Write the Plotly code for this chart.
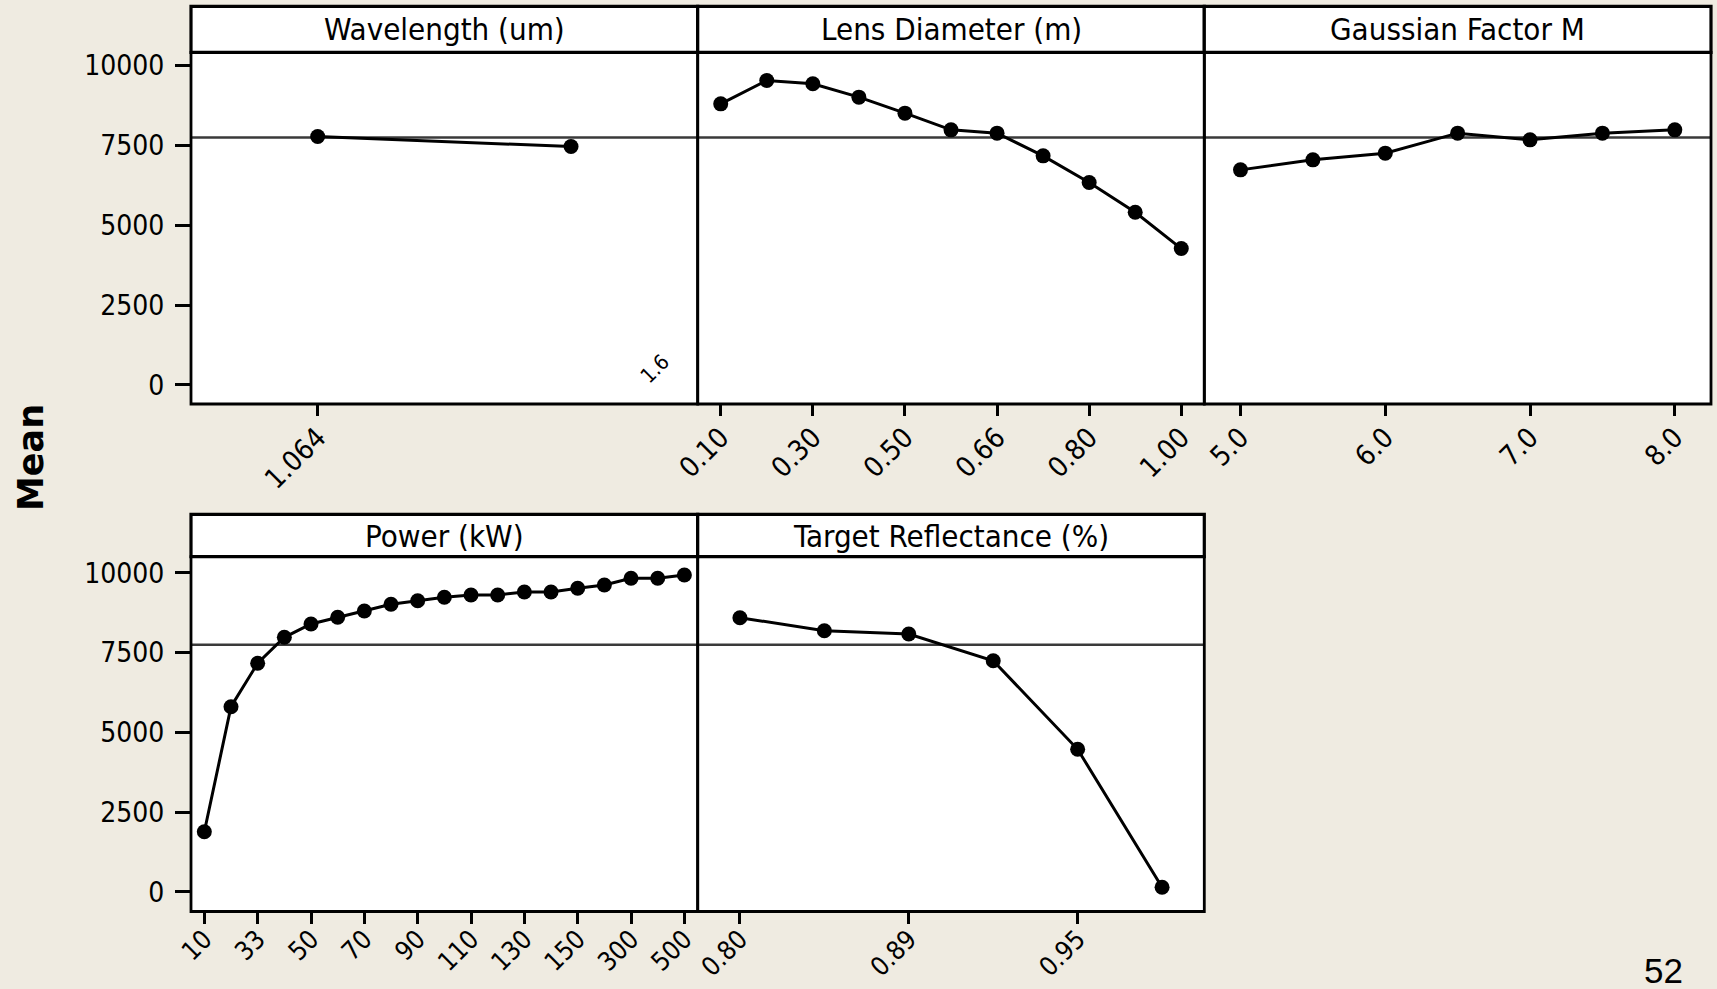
import plotly.graph_objects as go

W, H = 1717, 989
BG = "#EFEBE1"
TICK_FONT = "DejaVu Sans Condensed, DejaVu Sans, sans-serif"
GRAND_MEAN = 7750

# ---------------- data ----------------
WAVELENGTH_LEVELS = ["1.064", "1.6"]
WAVELENGTH_MEANS = [7777, 7463]

LENS_LEVELS = ["0.10", "0.20", "0.30", "0.40", "0.50", "0.60", "0.66", "0.70", "0.80", "0.90", "1.00"]
LENS_MEANS = [8800, 9531, 9427, 9010, 8509, 7986, 7882, 7172, 6336, 5408, 4270]

GAUSS_LEVELS = ["5.0", "5.5", "6.0", "6.5", "7.0", "7.5", "8.0"]
GAUSS_MEANS = [6733, 7047, 7256, 7882, 7673, 7882, 7986]

POWER_LEVELS = ["10", "20", "33", "40", "50", "60", "70", "80", "90", "100",
                "110", "120", "130", "140", "150", "200", "300", "400", "500"]
POWER_MEANS = [1883, 5805, 7167, 7982, 8400, 8610, 8808, 9018, 9131, 9238,
               9310, 9310, 9404, 9404, 9520, 9624, 9834, 9834, 9937]

REFL_LEVELS = ["0.80", "0.85", "0.89", "0.92", "0.95", "0.99"]
REFL_MEANS = [8597, 8190, 8086, 7248, 4468, 138]

Y_TICKS = [0, 2500, 5000, 7500, 10000]

PANELS = [
    dict(title="Wavelength (um)", levels=WAVELENGTH_LEVELS, means=WAVELENGTH_MEANS, row=0, col=0, every=2),
    dict(title="Lens Diameter (m)", levels=LENS_LEVELS, means=LENS_MEANS, row=0, col=1, every=2),
    dict(title="Gaussian Factor M", levels=GAUSS_LEVELS, means=GAUSS_MEANS, row=0, col=2, every=2),
    dict(title="Power (kW)", levels=POWER_LEVELS, means=POWER_MEANS, row=1, col=0, every=2),
    dict(title="Target Reflectance (%)", levels=REFL_LEVELS, means=REFL_MEANS, row=1, col=1, every=2),
]

# ---------------- layout geometry (pixels) ----------------
COLS = [(191, 697.7), (697.7, 1204.3), (1204.3, 1711)]
ROWS = [
    dict(plot=(52.3, 404), strip=(6.3, 52.3), yrange=(-595, 10413), xfont=28, xstand=-6),
    dict(plot=(556.7, 911.5), strip=(514.3, 556.7), yrange=(-621, 10511), xfont=26, xstand=-10),
]


def px_x(p):
    return p / W


def px_y(p):
    return 1 - p / H


fig = go.Figure()
layout = dict(
    width=W, height=H,
    margin=dict(l=0, r=0, t=0, b=0, autoexpand=False),
    paper_bgcolor=BG, plot_bgcolor="white",
    showlegend=False,
    shapes=[], annotations=[],
)

for i, p in enumerate(PANELS):
    n = i + 1
    xa = "x" if n == 1 else f"x{n}"
    ya = "y" if n == 1 else f"y{n}"
    xkey = "xaxis" if n == 1 else f"xaxis{n}"
    ykey = "yaxis" if n == 1 else f"yaxis{n}"
    c0, c1 = COLS[p["col"]]
    r = ROWS[p["row"]]
    levels = p["levels"]
    pos = list(range(1, len(levels) + 1))

    fig.add_trace(go.Scatter(
        x=pos, y=p["means"], mode="lines+markers",
        line=dict(color="black", width=3),
        marker=dict(color="black", size=15),
        xaxis=xa, yaxis=ya, hoverinfo="skip", cliponaxis=False,
    ))

    tickvals = pos[::p["every"]]
    ticktext = levels[::p["every"]]
    if p["title"].startswith("Wavelength"):
        tickvals, ticktext = pos[:1], levels[:1]

    layout[xkey] = dict(
        domain=[px_x(c0), px_x(c1)],
        range=[0.5, len(levels) + 0.5],
        anchor=ya, automargin=False,
        showgrid=False, zeroline=False, showline=False,
        ticks="outside", ticklen=11, tickwidth=2.5, tickcolor="black",
        tickvals=tickvals, ticktext=ticktext, tickangle=-45,
        tickfont=dict(family=TICK_FONT, size=r["xfont"], color="black"),
        ticklabelstandoff=r["xstand"],
        fixedrange=True,
    )
    first_col = p["col"] == 0
    layout[ykey] = dict(
        domain=[px_y(r["plot"][1]), px_y(r["plot"][0])],
        range=list(r["yrange"]),
        anchor=xa, automargin=False,
        showgrid=False, zeroline=False, showline=False,
        ticks="outside" if first_col else "", ticklen=15, tickwidth=2.5, tickcolor="black",
        tickvals=Y_TICKS, ticktext=[str(v) for v in Y_TICKS],
        showticklabels=first_col,
        tickfont=dict(family=TICK_FONT, size=28, color="black"),
        ticklabelstandoff=5,
        fixedrange=True,
    )

    # grand mean reference line
    layout["shapes"].append(dict(
        type="line", xref=f"{xa} domain", yref=ya,
        x0=0, x1=1, y0=GRAND_MEAN, y1=GRAND_MEAN,
        line=dict(color="#3a3a3a", width=2.5), layer="below",
    ))
    # panel border
    layout["shapes"].append(dict(
        type="rect", xref="paper", yref="paper",
        x0=px_x(c0), x1=px_x(c1), y0=px_y(r["plot"][1]), y1=px_y(r["plot"][0]),
        fillcolor="rgba(0,0,0,0)", line=dict(color="black", width=2.8), layer="above",
    ))
    # strip
    layout["shapes"].append(dict(
        type="rect", xref="paper", yref="paper",
        x0=px_x(c0), x1=px_x(c1), y0=px_y(r["strip"][1]), y1=px_y(r["strip"][0]),
        fillcolor="white", line=dict(color="black", width=3.2),
    ))
    layout["annotations"].append(dict(
        xref="paper", yref="paper",
        x=px_x((c0 + c1) / 2), y=px_y((r["strip"][0] + r["strip"][1]) / 2),
        text=p["title"], showarrow=False, xanchor="center", yanchor="middle",
        font=dict(family=TICK_FONT, size=31, color="black"),
    ))

# stray second wavelength label drawn inside the panel
layout["annotations"].append(dict(
    xref="paper", yref="paper", x=px_x(655), y=px_y(369),
    text=WAVELENGTH_LEVELS[1], showarrow=False, textangle=-45,
    xanchor="center", yanchor="middle",
    font=dict(family=TICK_FONT, size=21, color="black"),
))

# y axis title
layout["annotations"].append(dict(
    xref="paper", yref="paper", x=px_x(31), y=px_y(458),
    text="<b>Mean</b>", showarrow=False, textangle=-90,
    xanchor="center", yanchor="middle",
    font=dict(family="DejaVu Sans, sans-serif", size=35, color="black"),
))

# slide number
layout["annotations"].append(dict(
    xref="paper", yref="paper", x=px_x(1663), y=px_y(970),
    text="52", showarrow=False, xanchor="center", yanchor="middle",
    font=dict(family="Liberation Sans, Arial, sans-serif", size=35, color="black"),
))

fig.update_layout(**layout)
fig.write_html("out.html")
